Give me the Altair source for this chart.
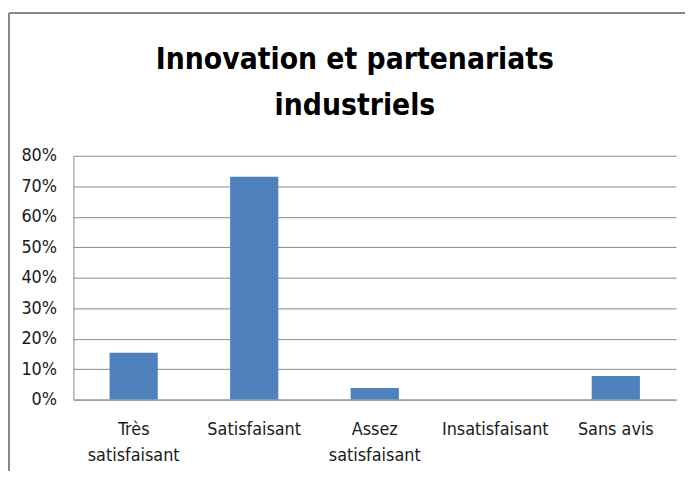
import altair as alt
import pandas as pd

categories = ["Très satisfaisant", "Satisfaisant", "Assez satisfaisant", "Insatisfaisant", "Sans avis"]
values = [0.154, 0.731, 0.038, 0.0, 0.077]
title_lines = ["Innovation et partenariats", "industriels"]

df = pd.DataFrame({"cat": categories, "val": values})

FONT = "DejaVu Sans Condensed, sans-serif"
GRID = "#8a8a8a"

bars = alt.Chart(df).mark_bar(color="#4F81BD").encode(
    x=alt.X("cat:N", sort=categories,
            scale=alt.Scale(paddingInner=0.6, paddingOuter=0.3),
            axis=alt.Axis(title=None, labelAngle=0, ticks=False, domain=True,
                          domainColor=GRID, labelFont=FONT, labelFontSize=18,
                          labelColor="#1a1a1a", labelPadding=21, labelLineHeight=26,
                          labelExpr="datum.label == 'Très satisfaisant' || datum.label == 'Assez satisfaisant' ? split(datum.label, ' ') : datum.label")),
    y=alt.Y("val:Q", scale=alt.Scale(domain=[0, 0.8], nice=False),
            axis=alt.Axis(title=None, format=".0%", values=[0, 0.1, 0.2, 0.3, 0.4, 0.5, 0.6, 0.7, 0.8],
                          ticks=False, domain=True, domainColor=GRID, grid=True, gridColor=GRID,
                          labelFont=FONT, labelFontSize=18, labelColor="#1a1a1a", labelPadding=17)),
)

frame_v = alt.Chart(df).mark_rule(color="#878787", strokeWidth=2).encode(
    x=alt.value(-65), y=alt.value(-144), y2=alt.value(330))
frame_h = alt.Chart(df).mark_rule(color="#878787", strokeWidth=2).encode(
    x=alt.value(-65), x2=alt.value(700), y=alt.value(-144))

chart = alt.layer(bars, frame_v, frame_h).properties(
    width=608, height=246,
    autosize=alt.AutoSizeParams(type="none"),
    padding={"left": 66, "top": 147, "right": 9, "bottom": 70},
    title=alt.TitleParams(text=title_lines, font=FONT, fontSize=30, fontWeight="bold",
                          color="#000000", anchor="middle", frame="group", lineHeight=47,
                          dx=-20, offset=-110),
).configure_view(stroke="transparent")

chart.save("out.html", embed_options={"renderer": "svg", "actions": False})
